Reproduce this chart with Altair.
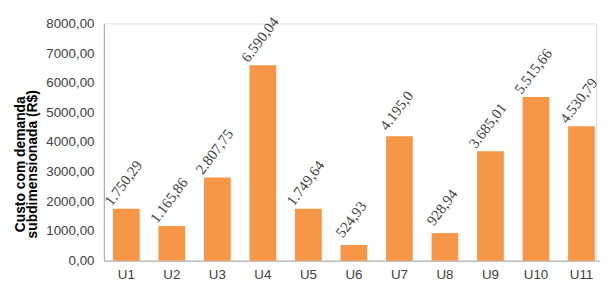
import altair as alt
import pandas as pd

categories = ["U1", "U2", "U3", "U4", "U5", "U6", "U7", "U8", "U9", "U10", "U11"]
values = [1750.29, 1165.86, 2807.75, 6590.04, 1749.64, 524.93, 4195.0, 928.94, 3685.01, 5515.66, 4530.79]
labels = ["1.750,29", "1.165,86", "2.807,75", "6.590,04", "1.749,64", "524,93",
          "4.195,0", "928,94", "3.685,01", "5.515,66", "4.530,79"]
y_ticks = [0, 1000, 2000, 3000, 4000, 5000, 6000, 7000, 8000]

df = pd.DataFrame({"cat": categories, "val": values, "lab": labels})

x = alt.X("cat:N", sort=categories, title=None,
          scale=alt.Scale(range=[0, 506], paddingInner=0.413, paddingOuter=0.2),
          axis=alt.Axis(labelAngle=0, ticks=False, domainColor="#A6A6A6",
                        labelFont="Liberation Sans", labelFontSize=13.5,
                        labelColor="#404040", labelPadding=7))
y = alt.Y("val:Q", title=["Custo com demanda", "subdimensionada (R$)"],
          scale=alt.Scale(domain=[0, 8000], nice=False),
          axis=alt.Axis(values=y_ticks, tickCount=9, grid=False, ticks=False,
                        domainColor="#A6A6A6", labelOverlap=False,
                        labelExpr="replace(format(datum.value, '.2f'), '.', ',')",
                        labelFont="Liberation Sans", labelFontSize=13.5,
                        labelColor="#404040", labelPadding=10,
                        titleFont="Liberation Sans", titleFontSize=14, titleFontWeight="bold",
                        titleColor="#000000", titlePadding=6, titleLineHeight=13,
                        titleY=142))

bars = alt.Chart(df).mark_bar(color="#F79646").encode(x=x, y=y)

text = alt.Chart(df).mark_text(
    angle=307, align="center", baseline="middle", font="Liberation Serif",
    fontSize=15, color="#404040", dx=19, dy=-18
).encode(x=x, y=y, text="lab:N")

chart = (bars + text).properties(
    width=498, height=240,
    padding={"left": 97, "top": 14, "right": 4, "bottom": 20},
    autosize=alt.AutoSizeParams(type="none"),
).configure_view(stroke=None).configure(background="#ffffff")

chart.save("out.html", embed_options={"renderer": "svg", "actions": False})
